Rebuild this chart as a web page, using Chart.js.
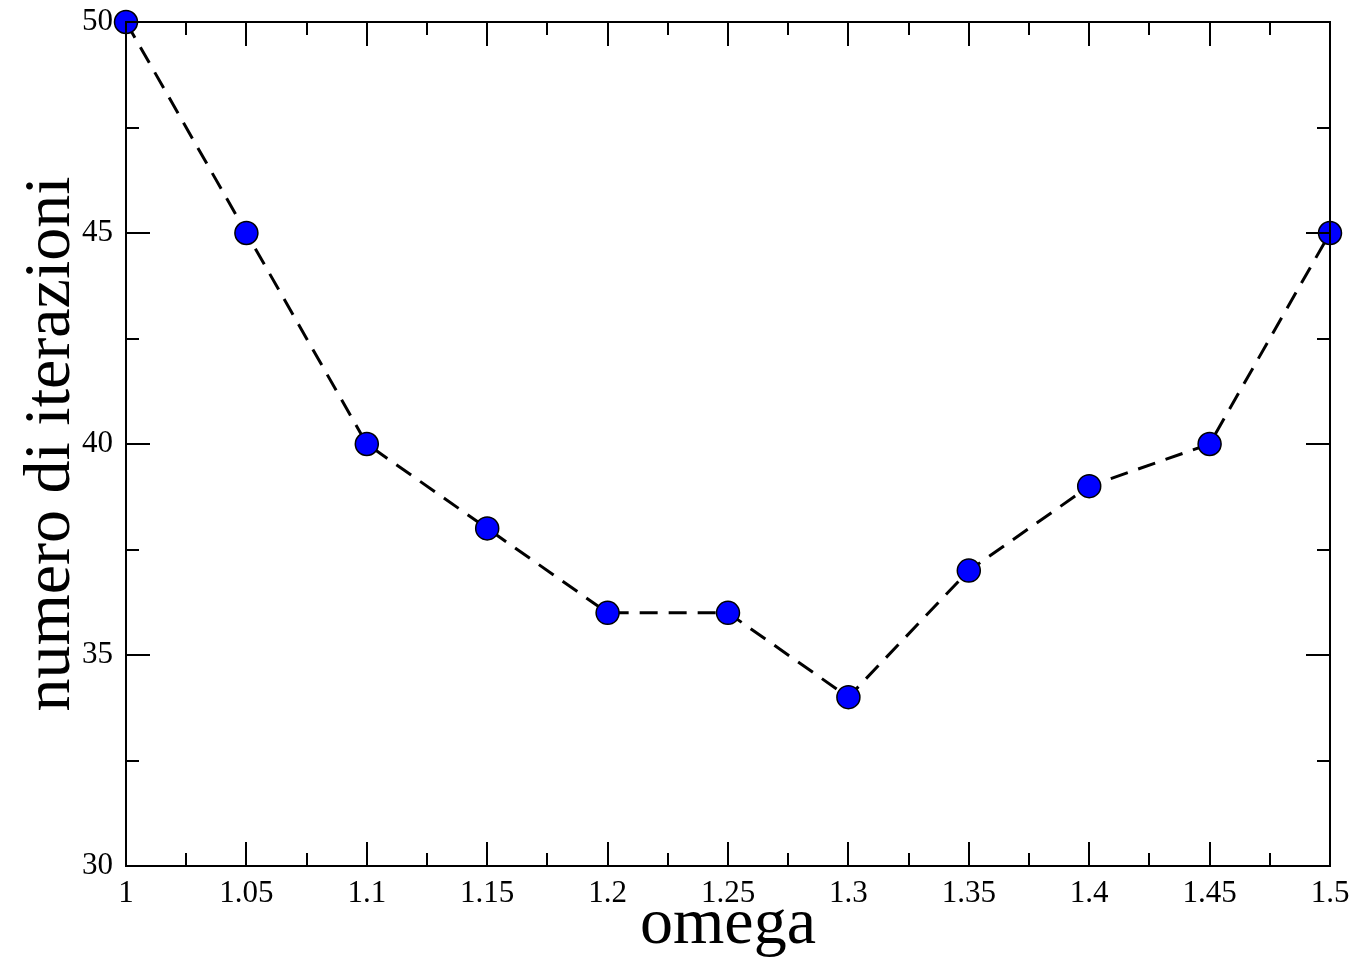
<!DOCTYPE html>
<html lang="it">
<head>
  <meta charset="UTF-8" />
  <title>numero di iterazioni vs omega</title>
  <script src="https://cdn.jsdelivr.net/npm/chart.js"></script>
  <style>
    html, body { margin: 0; padding: 0; background: #ffffff; }
    #wrap { width: 1358px; height: 961px; }
  </style>
</head>
<body>
  <div id="wrap"><canvas id="omegaChart" width="1358" height="961"></canvas></div>
  <script>
    // dati
    const omega = [1, 1.05, 1.1, 1.15, 1.2, 1.25, 1.3, 1.35, 1.4, 1.45, 1.5];
    const iterazioni = [50, 45, 40, 38, 36, 36, 34, 37, 39, 40, 45];
    const xTicks = [1, 1.05, 1.1, 1.15, 1.2, 1.25, 1.3, 1.35, 1.4, 1.45, 1.5];
    const yTicks = [30, 35, 40, 45, 50];

    const serif = "'Liberation Serif', 'Times New Roman', serif";

    // tacche verso l'interno su tutti e quattro i lati, stile xmgrace
    const frameTicks = {
      id: 'frameTicks',
      afterDatasetsDraw(chart) {
        const { ctx, chartArea: a, scales: { x, y } } = chart;
        const major = 23, minor = 12;
        ctx.save();
        ctx.strokeStyle = '#000';
        ctx.lineWidth = 2;
        ctx.lineCap = 'square';
        ctx.beginPath();
        xTicks.forEach((v, i) => {
          const px = Math.round(x.getPixelForValue(v));
          ctx.moveTo(px, a.bottom); ctx.lineTo(px, a.bottom - major);
          ctx.moveTo(px, a.top); ctx.lineTo(px, a.top + major);
          if (i < xTicks.length - 1) {
            const mx = Math.round(x.getPixelForValue((v + xTicks[i + 1]) / 2));
            ctx.moveTo(mx, a.bottom); ctx.lineTo(mx, a.bottom - minor);
            ctx.moveTo(mx, a.top); ctx.lineTo(mx, a.top + minor);
          }
        });
        yTicks.forEach((v, i) => {
          const py = Math.round(y.getPixelForValue(v));
          ctx.moveTo(a.left, py); ctx.lineTo(a.left + major, py);
          ctx.moveTo(a.right, py); ctx.lineTo(a.right - major, py);
          if (i < yTicks.length - 1) {
            const my = Math.round(y.getPixelForValue((v + yTicks[i + 1]) / 2));
            ctx.moveTo(a.left, my); ctx.lineTo(a.left + minor, my);
            ctx.moveTo(a.right, my); ctx.lineTo(a.right - minor, my);
          }
        });
        ctx.stroke();
        ctx.lineCap = 'butt';
        ctx.strokeRect(a.left, a.top, a.right - a.left, a.bottom - a.top);
        ctx.restore();
      }
    };

    new Chart(document.getElementById('omegaChart'), {
      type: 'line',
      data: {
        datasets: [{
          data: omega.map((o, i) => ({ x: o, y: iterazioni[i] })),
          borderColor: '#000000',
          borderWidth: 3,
          borderDash: [18, 11],
          backgroundColor: '#0000ff',
          pointBackgroundColor: '#0000ff',
          pointBorderColor: '#000000',
          pointBorderWidth: 1.5,
          pointRadius: 11.5,
          tension: 0,
          fill: false,
          clip: false
        }]
      },
      options: {
        responsive: false,
        animation: false,
        layout: { padding: { top: 22, right: 28, left: 0, bottom: 0 } },
        plugins: {
          legend: { display: false },
          tooltip: { enabled: false }
        },
        scales: {
          x: {
            type: 'linear',
            min: 1,
            max: 1.5,
            afterFit(scale) {
              scale.height = 95;
              scale.paddingLeft = 0;
              scale.paddingRight = 0;
            },
            afterBuildTicks(scale) { scale.ticks = xTicks.map(v => ({ value: v })); },
            grid: { display: false, drawTicks: false },
            border: { display: false },
            ticks: {
              color: '#000',
              padding: 9,
              maxRotation: 0,
              autoSkip: false,
              font: { family: serif, size: 31 },
              callback: v => String(parseFloat(v.toFixed(2)))
            },
            title: {
              display: true,
              text: 'omega',
              color: '#000',
              font: { family: serif, size: 66, lineHeight: 1 },
              padding: { top: 0, bottom: 2 }
            }
          },
          y: {
            type: 'linear',
            min: 30,
            max: 50,
            afterFit(scale) {
              scale.width = 126;
              scale.paddingTop = 0;
              scale.paddingBottom = 0;
            },
            afterBuildTicks(scale) { scale.ticks = yTicks.map(v => ({ value: v })); },
            grid: { display: false, drawTicks: false },
            border: { display: false },
            ticks: {
              color: '#000',
              padding: 13,
              font: { family: serif, size: 31 }
            },
            title: {
              display: true,
              text: 'numero di iterazioni',
              color: '#000',
              font: { family: serif, size: 66, lineHeight: 1 },
              padding: { top: 19, bottom: 0 }
            }
          }
        }
      },
      plugins: [frameTicks]
    });
  </script>
</body>
</html>
